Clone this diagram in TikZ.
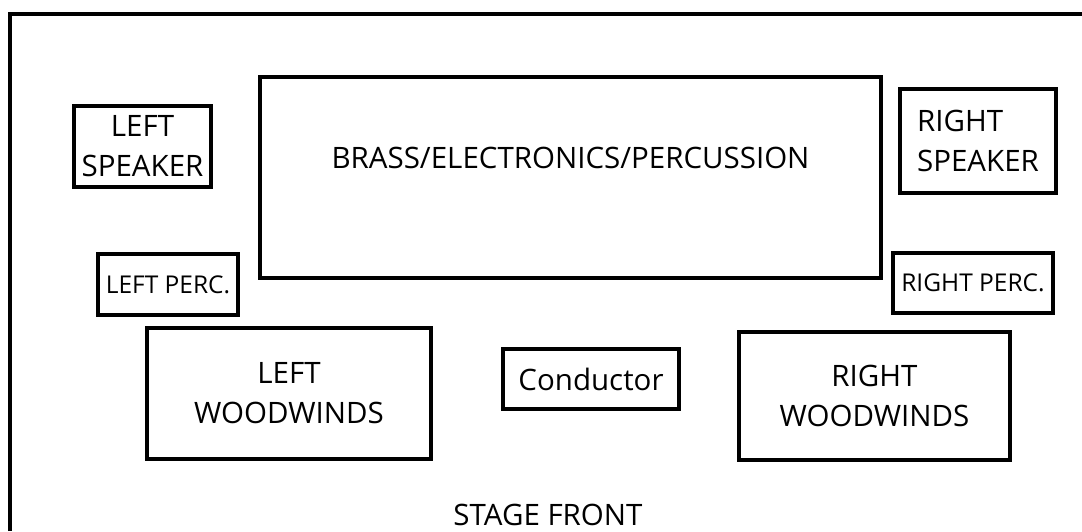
\documentclass[tikz,border=0pt]{standalone}
\usepackage{fontspec}
\setmainfont{Open Sans}
\begin{document}
\begin{tikzpicture}[x=1pt,y=-1pt,
  box/.style={draw=black, line width=3.2pt, rectangle, inner sep=0pt, align=center,
    font=\fontsize{29.5}{40}\selectfont},
  smallbox/.style={box, font=\fontsize{24.5}{28}\selectfont},
  plain/.style={inner sep=0pt, font=\fontsize{29.5}{40}\selectfont}]
\useasboundingbox (0,0) rectangle (1082,531);
\coordinate (fbl) at (10,531);
\coordinate (ftl) at (10,14);
\coordinate (ftr) at (1082,14);
\draw[line width=3.2pt] (fbl) -- (ftl) -- (ftr);
\node[box, minimum width=137pt, minimum height=81pt] (lspk) at (142.5,146.5) {LEFT\\SPEAKER};
\node[box, minimum width=621pt, minimum height=201pt,
  label={[plain, yshift=20pt]center:BRASS/ELECTRONICS/PERCUSSION}] (brass) at (570.5,177.5) {};
\node[box, minimum width=156pt, minimum height=104pt, align=left] (rspk) at (978,141) {RIGHT\\SPEAKER};
\node[smallbox, minimum width=140pt, minimum height=61pt] (lperc) at (168,284.5) {LEFT PERC.};
\node[smallbox, minimum width=160pt, minimum height=60pt] (rperc) at (973,283) {RIGHT PERC.};
\node[box, minimum width=284pt, minimum height=131pt] (lww) at (289,393.5) {LEFT\\WOODWINDS};
\node[box, minimum width=176pt, minimum height=60pt] (cond) at (591,379) {Conductor};
\node[box, minimum width=271pt, minimum height=128pt] (rww) at (874.5,396) {RIGHT\\WOODWINDS};
\node[plain, anchor=base] (front) at (548,525) {STAGE FRONT};
\end{tikzpicture}
\end{document}
